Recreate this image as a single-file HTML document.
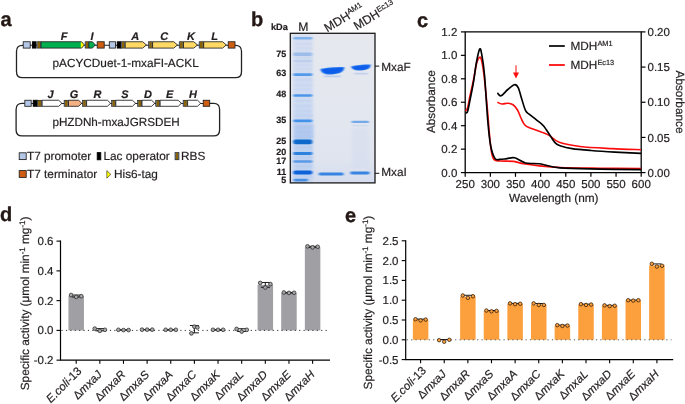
<!DOCTYPE html>
<html><head><meta charset="utf-8"><style>
html,body{margin:0;padding:0;background:#fff;width:685px;height:404px;overflow:hidden}
svg{display:block;filter:blur(0.35px)}
text{font-family:"Liberation Sans",sans-serif;text-rendering:geometricPrecision;stroke:#231f20;stroke-width:0.2px}
text.L{stroke:#231815;stroke-width:0.35px}
</style></head><body>
<svg width="685" height="404" viewBox="0 0 685 404">
<text x="0.5" y="26" font-size="20" font-weight="bold" fill="#231815" class="L">a</text>
<text x="251" y="25.8" font-size="20" font-weight="bold" fill="#231815" class="L">b</text>
<text x="417" y="26.6" font-size="20" font-weight="bold" fill="#231815" class="L">c</text>
<text x="-0.1" y="220.7" font-size="20" font-weight="bold" fill="#231815" class="L">d</text>
<text x="345" y="221.6" font-size="20" font-weight="bold" fill="#231815" class="L">e</text>
<path d="M23.2,45.3 L22.5,45.3 Q16.5,45.3 16.5,51.3 L16.5,71.7 Q16.5,77.7 22.5,77.7 L235.5,77.7 Q241.5,77.7 241.5,71.7 L241.5,51.3 Q241.5,45.3 235.5,45.3 L235,45.3" fill="none" stroke="#222" stroke-width="1.3"/>
<line x1="23" y1="45.3" x2="235" y2="45.3" stroke="#222" stroke-width="1.1"/>
<rect x="23.2" y="41.75" width="7.00" height="6.35" fill="#b4c7e7" stroke="#1e1e1e" stroke-width="0.85"/>
<rect x="32.4" y="41.75" width="3.50" height="6.35" fill="#000000" stroke="#000000" stroke-width="0.85"/>
<rect x="36.8" y="41.75" width="4.20" height="6.35" fill="#6a7a96"/>
<rect x="37.70" y="41.75" width="2.40" height="6.35" fill="#8a6404"/>
<rect x="36.8" y="41.75" width="4.20" height="6.35" fill="none" stroke="#1e1e1e" stroke-width="0.6"/>
<path d="M41,41.75 L80.9,41.75 L80.9,48.1 L41,48.1 Z" fill="#00b050"/>
<path d="M80.9,41.75 L81.6,41.75 L84.4,44.925 L81.6,48.1 L80.9,48.1 Z" fill="#ffff00"/>
<path d="M41,41.75 L81.6,41.75 L84.4,44.925 L81.6,48.1 L41,48.1 Z" fill="none" stroke="#1e1e1e" stroke-width="0.85"/>
<rect x="85.1" y="41.75" width="3.80" height="6.35" fill="#6a7a96"/>
<rect x="86.00" y="41.75" width="2.00" height="6.35" fill="#8a6404"/>
<rect x="85.1" y="41.75" width="3.80" height="6.35" fill="none" stroke="#1e1e1e" stroke-width="0.6"/>
<path d="M88.9,41.75 L92.40,41.75 L95.3,44.925 L92.40,48.1 L88.9,48.1 Z" fill="#00b050" stroke="#1e1e1e" stroke-width="0.85" stroke-linejoin="miter"/>
<rect x="97.2" y="41.75" width="7.00" height="6.35" fill="#cf5e12" stroke="#1e1e1e" stroke-width="0.85"/>
<rect x="109.3" y="41.75" width="6.20" height="6.35" fill="#b4c7e7" stroke="#1e1e1e" stroke-width="0.85"/>
<rect x="117.2" y="41.75" width="3.80" height="6.35" fill="#000000" stroke="#000000" stroke-width="0.85"/>
<rect x="121.0" y="41.75" width="4.20" height="6.35" fill="#6a7a96"/>
<rect x="121.90" y="41.75" width="2.40" height="6.35" fill="#8a6404"/>
<rect x="121.0" y="41.75" width="4.20" height="6.35" fill="none" stroke="#1e1e1e" stroke-width="0.6"/>
<path d="M125.2,41.75 L142.70,41.75 L146.4,44.925 L142.70,48.1 L125.2,48.1 Z" fill="#ffd966" stroke="#1e1e1e" stroke-width="0.85" stroke-linejoin="miter"/>
<rect x="148.5" y="41.75" width="4.10" height="6.35" fill="#6a7a96"/>
<rect x="149.40" y="41.75" width="2.30" height="6.35" fill="#8a6404"/>
<rect x="148.5" y="41.75" width="4.10" height="6.35" fill="none" stroke="#1e1e1e" stroke-width="0.6"/>
<path d="M152.6,41.75 L173.80,41.75 L177.5,44.925 L173.80,48.1 L152.6,48.1 Z" fill="#ffd966" stroke="#1e1e1e" stroke-width="0.85" stroke-linejoin="miter"/>
<rect x="179.2" y="41.75" width="4.30" height="6.35" fill="#6a7a96"/>
<rect x="180.10" y="41.75" width="2.50" height="6.35" fill="#8a6404"/>
<rect x="179.2" y="41.75" width="4.30" height="6.35" fill="none" stroke="#1e1e1e" stroke-width="0.6"/>
<path d="M183.5,41.75 L193.80,41.75 L197.5,44.925 L193.80,48.1 L183.5,48.1 Z" fill="#ffd966" stroke="#1e1e1e" stroke-width="0.85" stroke-linejoin="miter"/>
<rect x="199.1" y="41.75" width="4.60" height="6.35" fill="#6a7a96"/>
<rect x="200.00" y="41.75" width="2.80" height="6.35" fill="#8a6404"/>
<rect x="199.1" y="41.75" width="4.60" height="6.35" fill="none" stroke="#1e1e1e" stroke-width="0.6"/>
<path d="M203.7,41.75 L222.60,41.75 L226.3,44.925 L222.60,48.1 L203.7,48.1 Z" fill="#ffd966" stroke="#1e1e1e" stroke-width="0.85" stroke-linejoin="miter"/>
<rect x="228.2" y="41.75" width="6.80" height="6.35" fill="#cf5e12" stroke="#1e1e1e" stroke-width="0.85"/>
<text x="64" y="39.9" font-size="11" font-weight="bold" font-style="italic" text-anchor="middle" fill="#231f20">F</text>
<text x="92" y="39.9" font-size="11" font-weight="bold" font-style="italic" text-anchor="middle" fill="#231f20">I</text>
<text x="135.2" y="39.9" font-size="11" font-weight="bold" font-style="italic" text-anchor="middle" fill="#231f20">A</text>
<text x="164.3" y="39.9" font-size="11" font-weight="bold" font-style="italic" text-anchor="middle" fill="#231f20">C</text>
<text x="191" y="39.9" font-size="11" font-weight="bold" font-style="italic" text-anchor="middle" fill="#231f20">K</text>
<text x="214.6" y="39.9" font-size="11" font-weight="bold" font-style="italic" text-anchor="middle" fill="#231f20">L</text>
<text x="52.5" y="67.1" font-size="11.8" fill="#231f20">pACYCDuet-1-mxaFI-ACKL</text>
<path d="M24.8,103.45 L22.1,103.45 Q16.1,103.45 16.1,109.45 L16.1,129.9 Q16.1,135.9 22.1,135.9 L213.6,135.9 Q219.6,135.9 219.6,129.9 L219.6,109.45 Q219.6,103.45 213.6,103.45 L209.7,103.45" fill="none" stroke="#222" stroke-width="1.3"/>
<line x1="24.8" y1="103.45" x2="209.7" y2="103.45" stroke="#222" stroke-width="1.1"/>
<rect x="24.8" y="100.25" width="6.40" height="6.05" fill="#b4c7e7" stroke="#1e1e1e" stroke-width="0.85"/>
<rect x="33.2" y="100.25" width="4.00" height="6.05" fill="#000000" stroke="#000000" stroke-width="0.85"/>
<rect x="37.2" y="100.25" width="4.90" height="6.05" fill="#6a7a96"/>
<rect x="38.10" y="100.25" width="3.10" height="6.05" fill="#8a6404"/>
<rect x="37.2" y="100.25" width="4.90" height="6.05" fill="none" stroke="#1e1e1e" stroke-width="0.6"/>
<path d="M42.1,100.25 L58.70,100.25 L61.9,103.275 L58.70,106.3 L42.1,106.3 Z" fill="#ffffff" stroke="#1e1e1e" stroke-width="0.85" stroke-linejoin="miter"/>
<rect x="64.1" y="100.25" width="4.40" height="6.05" fill="#6a7a96"/>
<rect x="65.00" y="100.25" width="2.60" height="6.05" fill="#8a6404"/>
<rect x="64.1" y="100.25" width="4.40" height="6.05" fill="none" stroke="#1e1e1e" stroke-width="0.6"/>
<path d="M68.5,100.25 L78.60,100.25 L81.8,103.275 L78.60,106.3 L68.5,106.3 Z" fill="#f4b183" stroke="#1e1e1e" stroke-width="0.85" stroke-linejoin="miter"/>
<rect x="82.4" y="100.25" width="4.20" height="6.05" fill="#6a7a96"/>
<rect x="83.30" y="100.25" width="2.40" height="6.05" fill="#8a6404"/>
<rect x="82.4" y="100.25" width="4.20" height="6.05" fill="none" stroke="#1e1e1e" stroke-width="0.6"/>
<path d="M86.6,100.25 L107.40,100.25 L110.6,103.275 L107.40,106.3 L86.6,106.3 Z" fill="#ffffff" stroke="#1e1e1e" stroke-width="0.85" stroke-linejoin="miter"/>
<rect x="111.6" y="100.25" width="4.20" height="6.05" fill="#6a7a96"/>
<rect x="112.50" y="100.25" width="2.40" height="6.05" fill="#8a6404"/>
<rect x="111.6" y="100.25" width="4.20" height="6.05" fill="none" stroke="#1e1e1e" stroke-width="0.6"/>
<path d="M115.8,100.25 L132.40,100.25 L135.6,103.275 L132.40,106.3 L115.8,106.3 Z" fill="#ffffff" stroke="#1e1e1e" stroke-width="0.85" stroke-linejoin="miter"/>
<rect x="137.6" y="100.25" width="4.40" height="6.05" fill="#6a7a96"/>
<rect x="138.50" y="100.25" width="2.60" height="6.05" fill="#8a6404"/>
<rect x="137.6" y="100.25" width="4.40" height="6.05" fill="none" stroke="#1e1e1e" stroke-width="0.6"/>
<path d="M142.0,100.25 L151.60,100.25 L154.8,103.275 L151.60,106.3 L142.0,106.3 Z" fill="#ffffff" stroke="#1e1e1e" stroke-width="0.85" stroke-linejoin="miter"/>
<rect x="155.7" y="100.25" width="4.40" height="6.05" fill="#6a7a96"/>
<rect x="156.60" y="100.25" width="2.60" height="6.05" fill="#8a6404"/>
<rect x="155.7" y="100.25" width="4.40" height="6.05" fill="none" stroke="#1e1e1e" stroke-width="0.6"/>
<path d="M160.1,100.25 L178.20,100.25 L181.4,103.275 L178.20,106.3 L160.1,106.3 Z" fill="#ffffff" stroke="#1e1e1e" stroke-width="0.85" stroke-linejoin="miter"/>
<rect x="183.1" y="100.25" width="4.50" height="6.05" fill="#6a7a96"/>
<rect x="184.00" y="100.25" width="2.70" height="6.05" fill="#8a6404"/>
<rect x="183.1" y="100.25" width="4.50" height="6.05" fill="none" stroke="#1e1e1e" stroke-width="0.6"/>
<path d="M187.6,100.25 L197.50,100.25 L200.7,103.275 L197.50,106.3 L187.6,106.3 Z" fill="#ffffff" stroke="#1e1e1e" stroke-width="0.85" stroke-linejoin="miter"/>
<rect x="203.2" y="100.25" width="6.50" height="6.05" fill="#cf5e12" stroke="#1e1e1e" stroke-width="0.85"/>
<text x="50.5" y="97.8" font-size="11" font-weight="bold" font-style="italic" text-anchor="middle" fill="#231f20">J</text>
<text x="74" y="97.8" font-size="11" font-weight="bold" font-style="italic" text-anchor="middle" fill="#231f20">G</text>
<text x="97.4" y="97.8" font-size="11" font-weight="bold" font-style="italic" text-anchor="middle" fill="#231f20">R</text>
<text x="124.8" y="97.8" font-size="11" font-weight="bold" font-style="italic" text-anchor="middle" fill="#231f20">S</text>
<text x="148.1" y="97.8" font-size="11" font-weight="bold" font-style="italic" text-anchor="middle" fill="#231f20">D</text>
<text x="169.7" y="97.8" font-size="11" font-weight="bold" font-style="italic" text-anchor="middle" fill="#231f20">E</text>
<text x="193.1" y="97.8" font-size="11" font-weight="bold" font-style="italic" text-anchor="middle" fill="#231f20">H</text>
<text x="52.4" y="125.6" font-size="11.7" fill="#231f20">pHZDNh-mxaJGRSDEH</text>
<rect x="19.2" y="152.8" width="7.00" height="6.80" fill="#b4c7e7" stroke="#1e1e1e" stroke-width="0.85"/>
<text x="27" y="159.8" font-size="11.8" fill="#231f20">T7 promoter</text>
<rect x="97.2" y="152.6" width="3.60" height="7.20" fill="#000000" stroke="#000000" stroke-width="0.85"/>
<text x="103.5" y="159.8" font-size="11.8" fill="#231f20">Lac operator</text>
<rect x="175.0" y="152.6" width="4.00" height="7.20" fill="#6a7a96"/>
<rect x="175.90" y="152.6" width="2.20" height="7.20" fill="#8a6404"/>
<rect x="175.0" y="152.6" width="4.00" height="7.20" fill="none" stroke="#1e1e1e" stroke-width="0.6"/>
<text x="181" y="159.8" font-size="11.8" fill="#231f20">RBS</text>
<rect x="19.2" y="170.6" width="7.00" height="6.80" fill="#cf5e12" stroke="#1e1e1e" stroke-width="0.85"/>
<text x="27" y="177.8" font-size="11.8" fill="#231f20">T7 terminator</text>
<path d="M106.8,170.6 L110.8,174.4 L106.8,178.2 Z" fill="#ffff00" stroke="#1e1e1e" stroke-width="0.6"/>
<text x="114" y="177.8" font-size="11.8" fill="#231f20">His6-tag</text>
<defs><linearGradient id="gelbg" x1="0" y1="0" x2="0" y2="1"><stop offset="0" stop-color="#e6e8ee"/><stop offset="0.5" stop-color="#e3e7ef"/><stop offset="0.85" stop-color="#dfe4ef"/><stop offset="1" stop-color="#d5dcee"/></linearGradient><linearGradient id="mlane" x1="0" y1="0" x2="0" y2="1"><stop offset="0" stop-color="#d6dff1"/><stop offset="0.45" stop-color="#cddaf2"/><stop offset="0.75" stop-color="#bcd0f0"/><stop offset="1" stop-color="#c2d3f1"/></linearGradient><filter id="bb" x="-30%" y="-200%" width="160%" height="500%"><feGaussianBlur stdDeviation="1.1 0.75"/></filter><filter id="bb2" x="-30%" y="-200%" width="160%" height="500%"><feGaussianBlur stdDeviation="0.9 0.6"/></filter><filter id="blur2" x="-30%" y="-10%" width="160%" height="120%"><feGaussianBlur stdDeviation="1.5"/></filter></defs>
<rect x="290.3" y="33.3" width="84.69999999999999" height="149.60000000000002" fill="url(#gelbg)"/>
<rect x="293.3" y="34" width="19.5" height="148" fill="url(#mlane)" filter="url(#blur2)"/>
<rect x="294.5" y="124" width="19" height="16" fill="#a9c3ee" opacity="0.6" filter="url(#blur2)"/>
<rect x="294.30" y="42.75" width="18.50" height="2.50" rx="1.25" fill="#a3bfe8" opacity="0.1" filter="url(#bb)"/>
<rect x="294.30" y="46.90" width="18.50" height="2.20" rx="1.10" fill="#a3bfe8" opacity="0.08000000000000002" filter="url(#bb)"/>
<rect x="294.30" y="56.25" width="18.50" height="2.50" rx="1.25" fill="#a3bfe8" opacity="0.12" filter="url(#bb)"/>
<rect x="294.30" y="63.75" width="18.50" height="2.50" rx="1.25" fill="#a3bfe8" opacity="0.1" filter="url(#bb)"/>
<rect x="294.30" y="68.00" width="18.50" height="2.00" rx="1.00" fill="#a3bfe8" opacity="0.08000000000000002" filter="url(#bb)"/>
<rect x="294.30" y="78.50" width="18.50" height="3.00" rx="1.50" fill="#a3bfe8" opacity="0.13999999999999999" filter="url(#bb)"/>
<rect x="294.30" y="83.75" width="18.50" height="2.50" rx="1.25" fill="#a3bfe8" opacity="0.12" filter="url(#bb)"/>
<rect x="294.30" y="88.50" width="18.50" height="2.00" rx="1.00" fill="#a3bfe8" opacity="0.1" filter="url(#bb)"/>
<rect x="294.30" y="99.75" width="18.50" height="2.50" rx="1.25" fill="#a3bfe8" opacity="0.12" filter="url(#bb)"/>
<rect x="294.30" y="104.75" width="18.50" height="2.50" rx="1.25" fill="#a3bfe8" opacity="0.12" filter="url(#bb)"/>
<rect x="294.30" y="109.75" width="18.50" height="2.50" rx="1.25" fill="#a3bfe8" opacity="0.12" filter="url(#bb)"/>
<rect x="294.30" y="114.25" width="18.50" height="2.50" rx="1.25" fill="#a3bfe8" opacity="0.12" filter="url(#bb)"/>
<rect x="294.30" y="125.50" width="18.50" height="3.00" rx="1.50" fill="#a3bfe8" opacity="0.13999999999999999" filter="url(#bb)"/>
<rect x="294.30" y="130.50" width="18.50" height="3.00" rx="1.50" fill="#a3bfe8" opacity="0.13999999999999999" filter="url(#bb)"/>
<rect x="294.30" y="135.25" width="18.50" height="2.50" rx="1.25" fill="#a3bfe8" opacity="0.13999999999999999" filter="url(#bb)"/>
<rect x="294.30" y="146.25" width="18.50" height="2.50" rx="1.25" fill="#a3bfe8" opacity="0.13999999999999999" filter="url(#bb)"/>
<rect x="294.30" y="156.40" width="18.50" height="2.20" rx="1.10" fill="#a3bfe8" opacity="0.13999999999999999" filter="url(#bb)"/>
<rect x="294.30" y="165.25" width="18.50" height="2.50" rx="1.25" fill="#a3bfe8" opacity="0.16000000000000003" filter="url(#bb)"/>
<rect x="294.30" y="175.50" width="18.50" height="2.00" rx="1.00" fill="#a3bfe8" opacity="0.13999999999999999" filter="url(#bb)"/>
<rect x="293.20" y="36.90" width="19.20" height="2.60" rx="1.30" fill="#6aa6ec" opacity="0.8" filter="url(#bb)"/>
<rect x="293.20" y="52.50" width="19.20" height="3.40" rx="1.70" fill="#8cb2e8" opacity="0.75" filter="url(#bb)"/>
<rect x="293.20" y="59.80" width="19.20" height="2.40" rx="1.20" fill="#a9c2ea" opacity="0.5" filter="url(#bb)"/>
<rect x="293.20" y="73.30" width="19.20" height="2.60" rx="1.30" fill="#3d8fe9" opacity="0.85" filter="url(#bb)"/>
<rect x="293.20" y="94.20" width="19.20" height="2.60" rx="1.30" fill="#3d8fe9" opacity="0.9" filter="url(#bb)"/>
<rect x="293.20" y="119.40" width="19.20" height="2.80" rx="1.40" fill="#3d8fe9" opacity="0.95" filter="url(#bb)"/>
<rect x="293.20" y="139.50" width="19.20" height="4.80" rx="2.40" fill="#0a68cc" opacity="1.0" filter="url(#bb)"/>
<rect x="293.20" y="152.10" width="19.20" height="2.80" rx="1.40" fill="#2f82df" opacity="1.0" filter="url(#bb)"/>
<rect x="293.20" y="160.20" width="19.20" height="2.60" rx="1.30" fill="#4a90e4" opacity="0.85" filter="url(#bb)"/>
<rect x="293.20" y="170.60" width="19.20" height="4.00" rx="2.00" fill="#0c62da" opacity="1.0" filter="url(#bb)"/>
<rect x="293.50" y="178.70" width="14.50" height="2.80" rx="1.40" fill="#3b88e0" opacity="0.9" filter="url(#bb)"/>
<path d="M320.6,68.9 C326,67.6 338,66.7 344.2,67.0 C343.8,71.5 341.2,73.6 332,74.4 C324,74.9 321.2,72.6 320.6,68.9 Z" fill="#2474f2" filter="url(#bb2)"/>
<path d="M321.8,69.6 C326,68.6 338,67.9 343,68.1 C342.5,71.5 340.5,73.0 332,73.7 C325,74.1 322.3,72.3 321.8,69.6 Z" fill="#0a5de8" filter="url(#bb2)"/>
<path d="M351.4,66.3 C357,65.0 365,64.3 370.6,64.5 C370.2,68.0 368.2,69.8 361,70.5 C354.5,70.9 351.9,69.0 351.4,66.3 Z" fill="#2474f2" filter="url(#bb2)"/>
<path d="M352.4,66.9 C357,65.9 365,65.3 369.6,65.4 C369.2,68.0 367.5,69.2 361,69.8 C355,70.2 352.8,68.8 352.4,66.9 Z" fill="#0a5de8" filter="url(#bb2)"/>
<rect x="323.50" y="75.50" width="17.50" height="1.80" rx="0.90" fill="#8fb0e8" opacity="0.45" filter="url(#bb)"/>
<rect x="354.00" y="72.70" width="14.00" height="1.80" rx="0.90" fill="#8fb0e8" opacity="0.4" filter="url(#bb)"/>
<rect x="318.60" y="172.40" width="25.10" height="3.00" rx="1.50" fill="#2f80e2" opacity="0.95" filter="url(#bb)"/>
<rect x="350.20" y="171.60" width="19.40" height="2.80" rx="1.40" fill="#2f80e2" opacity="0.95" filter="url(#bb)"/>
<rect x="351.50" y="120.70" width="17.50" height="2.40" rx="1.20" fill="#4f95e8" opacity="0.75" filter="url(#bb)"/>
<rect x="352.00" y="124.80" width="16.70" height="1.60" rx="0.80" fill="#a8c0ea" opacity="0.25" filter="url(#bb)"/>
<rect x="352" y="128" width="17" height="40" fill="#c8d4ec" opacity="0.25" filter="url(#blur2)"/>
<rect x="290.3" y="33.3" width="84.69999999999999" height="149.60000000000002" fill="none" stroke="#1a1a1a" stroke-width="1.3"/>
<text x="286.2" y="56.5" font-size="9" font-weight="bold" text-anchor="end" fill="#231f20">75</text>
<text x="286.2" y="76.4" font-size="9" font-weight="bold" text-anchor="end" fill="#231f20">63</text>
<text x="286.2" y="97.1" font-size="9" font-weight="bold" text-anchor="end" fill="#231f20">48</text>
<text x="286.2" y="123.1" font-size="9" font-weight="bold" text-anchor="end" fill="#231f20">35</text>
<text x="286.2" y="144.3" font-size="9" font-weight="bold" text-anchor="end" fill="#231f20">25</text>
<text x="286.2" y="155.0" font-size="9" font-weight="bold" text-anchor="end" fill="#231f20">20</text>
<text x="286.2" y="163.9" font-size="9" font-weight="bold" text-anchor="end" fill="#231f20">17</text>
<text x="286.2" y="175.1" font-size="9" font-weight="bold" text-anchor="end" fill="#231f20">11</text>
<text x="286.2" y="182.9" font-size="9" font-weight="bold" text-anchor="end" fill="#231f20">5</text>
<text x="271.0" y="29.6" font-size="9.2" font-weight="bold" fill="#231f20">kDa</text>
<text x="298.3" y="31.3" font-size="12.2" fill="#231f20">M</text>
<text transform="translate(327.2,32.6) rotate(-31)" font-size="12.2" fill="#231f20">MDH<tspan font-size="7.8" dy="-4.3">AM1</tspan></text>
<text transform="translate(356.8,30.6) rotate(-31)" font-size="12.2" fill="#231f20">MDH<tspan font-size="7.8" dy="-4.3">Ec13</tspan></text>
<line x1="375" y1="66.1" x2="379.3" y2="66.1" stroke="#111" stroke-width="1"/>
<line x1="375" y1="173.3" x2="379.3" y2="173.3" stroke="#111" stroke-width="1"/>
<text x="381.3" y="70.6" font-size="11.8" fill="#231f20">MxaF</text>
<text x="381.3" y="176.3" font-size="11.8" fill="#231f20">MxaI</text>
<path d="M465.2,172.6 L465.2,31.9 L641.2,31.9 L641.2,172.6 Z" fill="none" stroke="#000" stroke-width="1.3"/>
<line x1="460.9" y1="172.60" x2="465.2" y2="172.60" stroke="#000" stroke-width="1.2"/>
<text x="457.3" y="176.70" font-size="11.5" text-anchor="end" fill="#231f20">0.0</text>
<line x1="460.9" y1="149.15" x2="465.2" y2="149.15" stroke="#000" stroke-width="1.2"/>
<text x="457.3" y="153.25" font-size="11.5" text-anchor="end" fill="#231f20">0.2</text>
<line x1="460.9" y1="125.70" x2="465.2" y2="125.70" stroke="#000" stroke-width="1.2"/>
<text x="457.3" y="129.80" font-size="11.5" text-anchor="end" fill="#231f20">0.4</text>
<line x1="460.9" y1="102.25" x2="465.2" y2="102.25" stroke="#000" stroke-width="1.2"/>
<text x="457.3" y="106.35" font-size="11.5" text-anchor="end" fill="#231f20">0.6</text>
<line x1="460.9" y1="78.80" x2="465.2" y2="78.80" stroke="#000" stroke-width="1.2"/>
<text x="457.3" y="82.90" font-size="11.5" text-anchor="end" fill="#231f20">0.8</text>
<line x1="460.9" y1="55.35" x2="465.2" y2="55.35" stroke="#000" stroke-width="1.2"/>
<text x="457.3" y="59.45" font-size="11.5" text-anchor="end" fill="#231f20">1.0</text>
<line x1="460.9" y1="31.90" x2="465.2" y2="31.90" stroke="#000" stroke-width="1.2"/>
<text x="457.3" y="36.00" font-size="11.5" text-anchor="end" fill="#231f20">1.2</text>
<line x1="641.2" y1="172.60" x2="645.5" y2="172.60" stroke="#000" stroke-width="1.2"/>
<text x="647.5" y="176.70" font-size="11.5" fill="#231f20">0.00</text>
<line x1="641.2" y1="137.43" x2="645.5" y2="137.43" stroke="#000" stroke-width="1.2"/>
<text x="647.5" y="141.53" font-size="11.5" fill="#231f20">0.05</text>
<line x1="641.2" y1="102.25" x2="645.5" y2="102.25" stroke="#000" stroke-width="1.2"/>
<text x="647.5" y="106.35" font-size="11.5" fill="#231f20">0.10</text>
<line x1="641.2" y1="67.08" x2="645.5" y2="67.08" stroke="#000" stroke-width="1.2"/>
<text x="647.5" y="71.17" font-size="11.5" fill="#231f20">0.15</text>
<line x1="641.2" y1="31.90" x2="645.5" y2="31.90" stroke="#000" stroke-width="1.2"/>
<text x="647.5" y="36.00" font-size="11.5" fill="#231f20">0.20</text>
<line x1="465.20" y1="172.6" x2="465.20" y2="176.79999999999998" stroke="#000" stroke-width="1.2"/>
<text x="465.20" y="187.6" font-size="11.5" text-anchor="middle" fill="#231f20">250</text>
<line x1="490.34" y1="172.6" x2="490.34" y2="176.79999999999998" stroke="#000" stroke-width="1.2"/>
<text x="490.34" y="187.6" font-size="11.5" text-anchor="middle" fill="#231f20">300</text>
<line x1="515.49" y1="172.6" x2="515.49" y2="176.79999999999998" stroke="#000" stroke-width="1.2"/>
<text x="515.49" y="187.6" font-size="11.5" text-anchor="middle" fill="#231f20">350</text>
<line x1="540.63" y1="172.6" x2="540.63" y2="176.79999999999998" stroke="#000" stroke-width="1.2"/>
<text x="540.63" y="187.6" font-size="11.5" text-anchor="middle" fill="#231f20">400</text>
<line x1="565.77" y1="172.6" x2="565.77" y2="176.79999999999998" stroke="#000" stroke-width="1.2"/>
<text x="565.77" y="187.6" font-size="11.5" text-anchor="middle" fill="#231f20">450</text>
<line x1="590.91" y1="172.6" x2="590.91" y2="176.79999999999998" stroke="#000" stroke-width="1.2"/>
<text x="590.91" y="187.6" font-size="11.5" text-anchor="middle" fill="#231f20">500</text>
<line x1="616.06" y1="172.6" x2="616.06" y2="176.79999999999998" stroke="#000" stroke-width="1.2"/>
<text x="616.06" y="187.6" font-size="11.5" text-anchor="middle" fill="#231f20">550</text>
<line x1="641.20" y1="172.6" x2="641.20" y2="176.79999999999998" stroke="#000" stroke-width="1.2"/>
<text x="641.20" y="187.6" font-size="11.5" text-anchor="middle" fill="#231f20">600</text>
<text x="553.8" y="202" font-size="11.8" text-anchor="middle" fill="#231f20">Wavelength (nm)</text>
<text transform="translate(435.4,101.6) rotate(-90)" font-size="11.8" text-anchor="middle" fill="#231f20">Absorbance</text>
<text transform="translate(675.8,102) rotate(90)" font-size="11.8" text-anchor="middle" fill="#231f20">Absorbance</text>
<line x1="549" y1="46.0" x2="564.8" y2="46.0" stroke="#000" stroke-width="1.7"/>
<line x1="549" y1="65.0" x2="564.8" y2="65.0" stroke="#fc0d0d" stroke-width="1.8"/>
<text x="570.5" y="49.8" font-size="11.8" fill="#231f20">MDH<tspan font-size="7.4" dy="-3.9">AM1</tspan></text>
<text x="570.5" y="68.8" font-size="11.8" fill="#231f20">MDH<tspan font-size="7.4" dy="-3.9">Ec13</tspan></text>
<line x1="516" y1="65.3" x2="516" y2="73.5" stroke="#fc0d0d" stroke-width="1"/>
<path d="M513,72.6 L519,72.6 L516,78.6 Z" fill="#fc0d0d"/>
<path d="M465.40,110.90 C465.75,110.42 466.73,110.48 467.50,108.00 C468.27,105.52 469.00,100.67 470.00,96.00 C471.00,91.33 472.42,85.33 473.50,80.00 C474.58,74.67 475.52,67.77 476.50,64.00 C477.48,60.23 478.57,58.07 479.40,57.40 C480.23,56.73 480.73,57.07 481.50,60.00 C482.27,62.93 483.08,67.50 484.00,75.00 C484.92,82.50 486.08,95.00 487.00,105.00 C487.92,115.00 488.75,127.17 489.50,135.00 C490.25,142.83 490.77,147.93 491.50,152.00 C492.23,156.07 492.52,157.90 493.90,159.40 C495.28,160.90 496.50,160.67 499.80,161.00 C503.10,161.33 509.73,160.93 513.70,161.40 C517.67,161.87 519.32,163.05 523.60,163.80 C527.88,164.55 533.33,165.28 539.40,165.90 C545.47,166.52 549.90,167.12 560.00,167.50 C570.10,167.88 586.50,168.02 600.00,168.20 C613.50,168.38 634.17,168.53 641.00,168.60" fill="none" stroke="#fc0d0d" stroke-width="1.65" stroke-linejoin="round"/>
<path d="M497.40,102.20 C498.15,102.50 500.17,103.82 501.90,104.00 C503.63,104.18 505.95,103.17 507.80,103.30 C509.65,103.43 511.38,103.68 513.00,104.80 C514.62,105.92 516.17,107.80 517.50,110.00 C518.83,112.20 519.82,115.53 521.00,118.00 C522.18,120.47 523.18,123.18 524.60,124.80 C526.02,126.42 526.37,126.38 529.50,127.70 C532.63,129.02 540.05,131.38 543.40,132.70 C546.75,134.02 546.95,134.00 549.60,135.60 C552.25,137.20 554.23,140.48 559.30,142.30 C564.37,144.12 571.22,145.45 580.00,146.50 C588.78,147.55 601.83,148.07 612.00,148.60 C622.17,149.13 636.17,149.52 641.00,149.70" fill="none" stroke="#fc0d0d" stroke-width="1.65" stroke-linejoin="round"/>
<path d="M465.40,112.30 C465.75,112.22 466.73,113.85 467.50,111.80 C468.27,109.75 469.00,104.97 470.00,100.00 C471.00,95.03 472.42,88.33 473.50,82.00 C474.58,75.67 475.45,67.52 476.50,62.00 C477.55,56.48 478.88,49.90 479.80,48.90 C480.72,47.90 481.22,51.65 482.00,56.00 C482.78,60.35 483.55,64.33 484.50,75.00 C485.45,85.67 486.70,108.33 487.70,120.00 C488.70,131.67 489.30,138.60 490.50,145.00 C491.70,151.40 493.35,156.00 494.90,158.40 C496.45,160.80 497.78,159.37 499.80,159.40 C501.82,159.43 504.52,158.87 507.00,158.60 C509.48,158.33 511.62,157.07 514.70,157.80 C517.78,158.53 521.38,162.00 525.50,163.00 C529.62,164.00 533.65,162.98 539.40,163.80 C545.15,164.62 549.90,167.02 560.00,167.90 C570.10,168.78 586.50,168.82 600.00,169.10 C613.50,169.38 634.17,169.52 641.00,169.60" fill="none" stroke="#000" stroke-width="1.65" stroke-linejoin="round"/>
<path d="M497.40,92.90 C498.02,93.38 499.37,96.37 501.10,95.80 C502.83,95.23 505.57,91.35 507.80,89.50 C510.03,87.65 512.77,85.00 514.50,84.70 C516.23,84.40 516.97,85.22 518.20,87.70 C519.43,90.18 520.67,95.77 521.90,99.60 C523.13,103.43 524.35,108.23 525.60,110.70 C526.85,113.17 527.60,112.88 529.40,114.40 C531.20,115.92 534.07,117.92 536.40,119.80 C538.73,121.68 541.07,123.00 543.40,125.70 C545.73,128.40 548.38,133.08 550.40,136.00 C552.42,138.92 553.90,141.58 555.50,143.20 C557.10,144.82 557.25,144.80 560.00,145.70 C562.75,146.60 566.83,147.80 572.00,148.60 C577.17,149.40 583.83,149.92 591.00,150.50 C598.17,151.08 606.67,151.62 615.00,152.10 C623.33,152.58 636.67,153.18 641.00,153.40" fill="none" stroke="#000" stroke-width="1.65" stroke-linejoin="round"/>
<path d="M60.5,240.52 L60.5,360.2 L330,360.2" fill="none" stroke="#000" stroke-width="1.2"/>
<line x1="56.5" y1="241.12" x2="60.5" y2="241.12" stroke="#000" stroke-width="1.1"/>
<text x="53.5" y="245.02" font-size="11.5" text-anchor="end" fill="#231f20">0.6</text>
<line x1="56.5" y1="270.88" x2="60.5" y2="270.88" stroke="#000" stroke-width="1.1"/>
<text x="53.5" y="274.78" font-size="11.5" text-anchor="end" fill="#231f20">0.4</text>
<line x1="56.5" y1="300.64" x2="60.5" y2="300.64" stroke="#000" stroke-width="1.1"/>
<text x="53.5" y="304.54" font-size="11.5" text-anchor="end" fill="#231f20">0.2</text>
<line x1="56.5" y1="330.40" x2="60.5" y2="330.40" stroke="#000" stroke-width="1.1"/>
<text x="53.5" y="334.30" font-size="11.5" text-anchor="end" fill="#231f20">0.0</text>
<line x1="56.5" y1="360.16" x2="60.5" y2="360.16" stroke="#000" stroke-width="1.1"/>
<text x="53.5" y="364.06" font-size="11.5" text-anchor="end" fill="#231f20">-0.2</text>
<rect x="68.45" y="295.88" width="15.5" height="34.52" fill="#a09fa4"/>
<rect x="257.57" y="284.87" width="15.5" height="45.53" fill="#a09fa4"/>
<rect x="281.21" y="292.90" width="15.5" height="37.50" fill="#a09fa4"/>
<rect x="304.85" y="247.22" width="15.5" height="83.18" fill="#a09fa4"/>
<line x1="61.5" y1="330.4" x2="328.5" y2="330.4" stroke="#333" stroke-width="1" stroke-dasharray="1.2,3.2"/>
<line x1="76.20" y1="360.2" x2="76.20" y2="363.8" stroke="#000" stroke-width="1.1"/>
<text transform="translate(82.40,371.8) rotate(-45)" font-size="11.5" text-anchor="end" fill="#231f20"><tspan font-style="italic">E.coli</tspan>-13</text>
<line x1="99.84" y1="360.2" x2="99.84" y2="363.8" stroke="#000" stroke-width="1.1"/>
<text transform="translate(102.54,375.2) rotate(-45)" font-size="11.5" text-anchor="end" fill="#231f20">Δ<tspan font-style="italic">mxaJ</tspan></text>
<line x1="123.48" y1="360.2" x2="123.48" y2="363.8" stroke="#000" stroke-width="1.1"/>
<text transform="translate(126.18,375.2) rotate(-45)" font-size="11.5" text-anchor="end" fill="#231f20">Δ<tspan font-style="italic">mxaR</tspan></text>
<line x1="147.12" y1="360.2" x2="147.12" y2="363.8" stroke="#000" stroke-width="1.1"/>
<text transform="translate(149.82,375.2) rotate(-45)" font-size="11.5" text-anchor="end" fill="#231f20">Δ<tspan font-style="italic">mxaS</tspan></text>
<line x1="170.76" y1="360.2" x2="170.76" y2="363.8" stroke="#000" stroke-width="1.1"/>
<text transform="translate(173.46,375.2) rotate(-45)" font-size="11.5" text-anchor="end" fill="#231f20">Δ<tspan font-style="italic">mxaA</tspan></text>
<line x1="194.40" y1="360.2" x2="194.40" y2="363.8" stroke="#000" stroke-width="1.1"/>
<text transform="translate(197.10,375.2) rotate(-45)" font-size="11.5" text-anchor="end" fill="#231f20">Δ<tspan font-style="italic">mxaC</tspan></text>
<line x1="218.04" y1="360.2" x2="218.04" y2="363.8" stroke="#000" stroke-width="1.1"/>
<text transform="translate(220.74,375.2) rotate(-45)" font-size="11.5" text-anchor="end" fill="#231f20">Δ<tspan font-style="italic">mxaK</tspan></text>
<line x1="241.68" y1="360.2" x2="241.68" y2="363.8" stroke="#000" stroke-width="1.1"/>
<text transform="translate(244.38,375.2) rotate(-45)" font-size="11.5" text-anchor="end" fill="#231f20">Δ<tspan font-style="italic">mxaL</tspan></text>
<line x1="265.32" y1="360.2" x2="265.32" y2="363.8" stroke="#000" stroke-width="1.1"/>
<text transform="translate(268.02,375.2) rotate(-45)" font-size="11.5" text-anchor="end" fill="#231f20">Δ<tspan font-style="italic">mxaD</tspan></text>
<line x1="288.96" y1="360.2" x2="288.96" y2="363.8" stroke="#000" stroke-width="1.1"/>
<text transform="translate(291.66,375.2) rotate(-45)" font-size="11.5" text-anchor="end" fill="#231f20">Δ<tspan font-style="italic">mxaE</tspan></text>
<line x1="312.60" y1="360.2" x2="312.60" y2="363.8" stroke="#000" stroke-width="1.1"/>
<text transform="translate(315.30,375.2) rotate(-45)" font-size="11.5" text-anchor="end" fill="#231f20">Δ<tspan font-style="italic">mxaH</tspan></text>
<text transform="translate(28.7,303.4) rotate(-90)" font-size="11.8" text-anchor="middle" fill="#231f20">Specific activity (μmol min<tspan font-size="8" dy="-4">-1</tspan><tspan dy="4"> mg</tspan><tspan font-size="8" dy="-4">-1</tspan><tspan dy="4">)</tspan></text>
<line x1="76.20" y1="295.05" x2="76.20" y2="297.00" stroke="#000" stroke-width="0.9"/>
<line x1="71.70" y1="295.05" x2="80.70" y2="295.05" stroke="#000" stroke-width="0.9"/>
<line x1="71.70" y1="297.00" x2="80.70" y2="297.00" stroke="#000" stroke-width="0.9"/>
<circle cx="71.10" cy="294.99" r="1.85" fill="#a8a8ab" stroke="#2a2a2a" stroke-width="0.75"/>
<circle cx="76.20" cy="296.92" r="1.85" fill="#a8a8ab" stroke="#2a2a2a" stroke-width="0.75"/>
<circle cx="81.30" cy="296.18" r="1.85" fill="#a8a8ab" stroke="#2a2a2a" stroke-width="0.75"/>
<line x1="99.84" y1="328.64" x2="99.84" y2="330.87" stroke="#000" stroke-width="0.9"/>
<line x1="95.34" y1="328.64" x2="104.34" y2="328.64" stroke="#000" stroke-width="0.9"/>
<line x1="95.34" y1="330.87" x2="104.34" y2="330.87" stroke="#000" stroke-width="0.9"/>
<circle cx="94.74" cy="328.61" r="1.85" fill="#a8a8ab" stroke="#2a2a2a" stroke-width="0.75"/>
<circle cx="99.84" cy="330.85" r="1.85" fill="#a8a8ab" stroke="#2a2a2a" stroke-width="0.75"/>
<circle cx="104.94" cy="329.80" r="1.85" fill="#a8a8ab" stroke="#2a2a2a" stroke-width="0.75"/>
<line x1="123.48" y1="329.83" x2="123.48" y2="330.18" stroke="#000" stroke-width="0.9"/>
<line x1="118.98" y1="329.83" x2="127.98" y2="329.83" stroke="#000" stroke-width="0.9"/>
<line x1="118.98" y1="330.18" x2="127.98" y2="330.18" stroke="#000" stroke-width="0.9"/>
<circle cx="118.38" cy="329.80" r="1.85" fill="#a8a8ab" stroke="#2a2a2a" stroke-width="0.75"/>
<circle cx="123.48" cy="330.10" r="1.85" fill="#a8a8ab" stroke="#2a2a2a" stroke-width="0.75"/>
<circle cx="128.58" cy="330.10" r="1.85" fill="#a8a8ab" stroke="#2a2a2a" stroke-width="0.75"/>
<line x1="147.12" y1="329.66" x2="147.12" y2="329.66" stroke="#000" stroke-width="0.9"/>
<line x1="142.62" y1="329.66" x2="151.62" y2="329.66" stroke="#000" stroke-width="0.9"/>
<line x1="142.62" y1="329.66" x2="151.62" y2="329.66" stroke="#000" stroke-width="0.9"/>
<circle cx="142.02" cy="329.66" r="1.85" fill="#a8a8ab" stroke="#2a2a2a" stroke-width="0.75"/>
<circle cx="147.12" cy="329.66" r="1.85" fill="#a8a8ab" stroke="#2a2a2a" stroke-width="0.75"/>
<circle cx="152.22" cy="329.66" r="1.85" fill="#a8a8ab" stroke="#2a2a2a" stroke-width="0.75"/>
<line x1="170.76" y1="329.80" x2="170.76" y2="329.80" stroke="#000" stroke-width="0.9"/>
<line x1="166.26" y1="329.80" x2="175.26" y2="329.80" stroke="#000" stroke-width="0.9"/>
<line x1="166.26" y1="329.80" x2="175.26" y2="329.80" stroke="#000" stroke-width="0.9"/>
<circle cx="165.66" cy="329.80" r="1.85" fill="#a8a8ab" stroke="#2a2a2a" stroke-width="0.75"/>
<circle cx="170.76" cy="329.80" r="1.85" fill="#a8a8ab" stroke="#2a2a2a" stroke-width="0.75"/>
<circle cx="175.86" cy="329.80" r="1.85" fill="#a8a8ab" stroke="#2a2a2a" stroke-width="0.75"/>
<line x1="194.40" y1="325.49" x2="194.40" y2="332.83" stroke="#000" stroke-width="0.9"/>
<line x1="189.90" y1="325.49" x2="198.90" y2="325.49" stroke="#000" stroke-width="0.9"/>
<line x1="189.90" y1="332.83" x2="198.90" y2="332.83" stroke="#000" stroke-width="0.9"/>
<circle cx="194.40" cy="326.68" r="1.85" fill="#a8a8ab" stroke="#2a2a2a" stroke-width="0.75"/>
<circle cx="197.40" cy="327.42" r="1.85" fill="#a8a8ab" stroke="#2a2a2a" stroke-width="0.75"/>
<circle cx="191.40" cy="333.38" r="1.85" fill="#a8a8ab" stroke="#2a2a2a" stroke-width="0.75"/>
<line x1="218.04" y1="329.80" x2="218.04" y2="329.80" stroke="#000" stroke-width="0.9"/>
<line x1="213.54" y1="329.80" x2="222.54" y2="329.80" stroke="#000" stroke-width="0.9"/>
<line x1="213.54" y1="329.80" x2="222.54" y2="329.80" stroke="#000" stroke-width="0.9"/>
<circle cx="212.94" cy="329.80" r="1.85" fill="#a8a8ab" stroke="#2a2a2a" stroke-width="0.75"/>
<circle cx="218.04" cy="329.80" r="1.85" fill="#a8a8ab" stroke="#2a2a2a" stroke-width="0.75"/>
<circle cx="223.14" cy="329.80" r="1.85" fill="#a8a8ab" stroke="#2a2a2a" stroke-width="0.75"/>
<line x1="241.68" y1="328.74" x2="241.68" y2="331.47" stroke="#000" stroke-width="0.9"/>
<line x1="237.18" y1="328.74" x2="246.18" y2="328.74" stroke="#000" stroke-width="0.9"/>
<line x1="237.18" y1="331.47" x2="246.18" y2="331.47" stroke="#000" stroke-width="0.9"/>
<circle cx="236.58" cy="328.91" r="1.85" fill="#a8a8ab" stroke="#2a2a2a" stroke-width="0.75"/>
<circle cx="241.68" cy="331.59" r="1.85" fill="#a8a8ab" stroke="#2a2a2a" stroke-width="0.75"/>
<circle cx="246.78" cy="329.80" r="1.85" fill="#a8a8ab" stroke="#2a2a2a" stroke-width="0.75"/>
<line x1="265.32" y1="282.47" x2="265.32" y2="287.26" stroke="#000" stroke-width="0.9"/>
<line x1="260.82" y1="282.47" x2="269.82" y2="282.47" stroke="#000" stroke-width="0.9"/>
<line x1="260.82" y1="287.26" x2="269.82" y2="287.26" stroke="#000" stroke-width="0.9"/>
<circle cx="260.22" cy="282.93" r="1.85" fill="#a8a8ab" stroke="#2a2a2a" stroke-width="0.75"/>
<circle cx="265.32" cy="287.55" r="1.85" fill="#a8a8ab" stroke="#2a2a2a" stroke-width="0.75"/>
<circle cx="270.42" cy="284.12" r="1.85" fill="#a8a8ab" stroke="#2a2a2a" stroke-width="0.75"/>
<line x1="288.96" y1="292.48" x2="288.96" y2="292.93" stroke="#000" stroke-width="0.9"/>
<line x1="284.46" y1="292.48" x2="293.46" y2="292.48" stroke="#000" stroke-width="0.9"/>
<line x1="284.46" y1="292.93" x2="293.46" y2="292.93" stroke="#000" stroke-width="0.9"/>
<circle cx="283.86" cy="292.46" r="1.85" fill="#a8a8ab" stroke="#2a2a2a" stroke-width="0.75"/>
<circle cx="288.96" cy="292.90" r="1.85" fill="#a8a8ab" stroke="#2a2a2a" stroke-width="0.75"/>
<circle cx="294.06" cy="292.75" r="1.85" fill="#a8a8ab" stroke="#2a2a2a" stroke-width="0.75"/>
<line x1="312.60" y1="246.30" x2="312.60" y2="247.35" stroke="#000" stroke-width="0.9"/>
<line x1="308.10" y1="246.30" x2="317.10" y2="246.30" stroke="#000" stroke-width="0.9"/>
<line x1="308.10" y1="247.35" x2="317.10" y2="247.35" stroke="#000" stroke-width="0.9"/>
<circle cx="307.50" cy="246.33" r="1.85" fill="#a8a8ab" stroke="#2a2a2a" stroke-width="0.75"/>
<circle cx="312.60" cy="247.37" r="1.85" fill="#a8a8ab" stroke="#2a2a2a" stroke-width="0.75"/>
<circle cx="317.70" cy="246.77" r="1.85" fill="#a8a8ab" stroke="#2a2a2a" stroke-width="0.75"/>
<path d="M405.7,240.20 L405.7,359.6 L673.2,359.6" fill="none" stroke="#000" stroke-width="1.2"/>
<line x1="401.7" y1="240.80" x2="405.7" y2="240.80" stroke="#000" stroke-width="1.1"/>
<text x="398.5" y="244.70" font-size="11.5" text-anchor="end" fill="#231f20">2.5</text>
<line x1="401.7" y1="260.60" x2="405.7" y2="260.60" stroke="#000" stroke-width="1.1"/>
<text x="398.5" y="264.50" font-size="11.5" text-anchor="end" fill="#231f20">2.0</text>
<line x1="401.7" y1="280.40" x2="405.7" y2="280.40" stroke="#000" stroke-width="1.1"/>
<text x="398.5" y="284.30" font-size="11.5" text-anchor="end" fill="#231f20">1.5</text>
<line x1="401.7" y1="300.20" x2="405.7" y2="300.20" stroke="#000" stroke-width="1.1"/>
<text x="398.5" y="304.10" font-size="11.5" text-anchor="end" fill="#231f20">1.0</text>
<line x1="401.7" y1="320.00" x2="405.7" y2="320.00" stroke="#000" stroke-width="1.1"/>
<text x="398.5" y="323.90" font-size="11.5" text-anchor="end" fill="#231f20">0.5</text>
<line x1="401.7" y1="339.80" x2="405.7" y2="339.80" stroke="#000" stroke-width="1.1"/>
<text x="398.5" y="343.70" font-size="11.5" text-anchor="end" fill="#231f20">0.0</text>
<line x1="401.7" y1="359.60" x2="405.7" y2="359.60" stroke="#000" stroke-width="1.1"/>
<text x="398.5" y="363.50" font-size="11.5" text-anchor="end" fill="#231f20">-0.5</text>
<rect x="412.85" y="319.60" width="15.5" height="20.20" fill="#fca03e"/>
<rect x="460.11" y="296.64" width="15.5" height="43.16" fill="#fca03e"/>
<rect x="483.74" y="310.89" width="15.5" height="28.91" fill="#fca03e"/>
<rect x="507.37" y="303.76" width="15.5" height="36.04" fill="#fca03e"/>
<rect x="531.00" y="304.56" width="15.5" height="35.24" fill="#fca03e"/>
<rect x="554.63" y="325.54" width="15.5" height="14.26" fill="#fca03e"/>
<rect x="578.26" y="304.56" width="15.5" height="35.24" fill="#fca03e"/>
<rect x="601.89" y="305.74" width="15.5" height="34.06" fill="#fca03e"/>
<rect x="625.52" y="300.20" width="15.5" height="39.60" fill="#fca03e"/>
<rect x="649.15" y="265.35" width="15.5" height="74.45" fill="#fca03e"/>
<line x1="406.7" y1="339.8" x2="671.5" y2="339.8" stroke="#555" stroke-width="1" stroke-dasharray="1.2,3.2"/>
<line x1="420.60" y1="359.6" x2="420.60" y2="363.20000000000005" stroke="#000" stroke-width="1.1"/>
<text transform="translate(426.80,371.2) rotate(-45)" font-size="11.5" text-anchor="end" fill="#231f20"><tspan font-style="italic">E.coli</tspan>-13</text>
<line x1="444.23" y1="359.6" x2="444.23" y2="363.20000000000005" stroke="#000" stroke-width="1.1"/>
<text transform="translate(446.93,374.6) rotate(-45)" font-size="11.5" text-anchor="end" fill="#231f20">Δ<tspan font-style="italic">mxaJ</tspan></text>
<line x1="467.86" y1="359.6" x2="467.86" y2="363.20000000000005" stroke="#000" stroke-width="1.1"/>
<text transform="translate(470.56,374.6) rotate(-45)" font-size="11.5" text-anchor="end" fill="#231f20">Δ<tspan font-style="italic">mxaR</tspan></text>
<line x1="491.49" y1="359.6" x2="491.49" y2="363.20000000000005" stroke="#000" stroke-width="1.1"/>
<text transform="translate(494.19,374.6) rotate(-45)" font-size="11.5" text-anchor="end" fill="#231f20">Δ<tspan font-style="italic">mxaS</tspan></text>
<line x1="515.12" y1="359.6" x2="515.12" y2="363.20000000000005" stroke="#000" stroke-width="1.1"/>
<text transform="translate(517.82,374.6) rotate(-45)" font-size="11.5" text-anchor="end" fill="#231f20">Δ<tspan font-style="italic">mxaA</tspan></text>
<line x1="538.75" y1="359.6" x2="538.75" y2="363.20000000000005" stroke="#000" stroke-width="1.1"/>
<text transform="translate(541.45,374.6) rotate(-45)" font-size="11.5" text-anchor="end" fill="#231f20">Δ<tspan font-style="italic">mxaC</tspan></text>
<line x1="562.38" y1="359.6" x2="562.38" y2="363.20000000000005" stroke="#000" stroke-width="1.1"/>
<text transform="translate(565.08,374.6) rotate(-45)" font-size="11.5" text-anchor="end" fill="#231f20">Δ<tspan font-style="italic">mxaK</tspan></text>
<line x1="586.01" y1="359.6" x2="586.01" y2="363.20000000000005" stroke="#000" stroke-width="1.1"/>
<text transform="translate(588.71,374.6) rotate(-45)" font-size="11.5" text-anchor="end" fill="#231f20">Δ<tspan font-style="italic">mxaL</tspan></text>
<line x1="609.64" y1="359.6" x2="609.64" y2="363.20000000000005" stroke="#000" stroke-width="1.1"/>
<text transform="translate(612.34,374.6) rotate(-45)" font-size="11.5" text-anchor="end" fill="#231f20">Δ<tspan font-style="italic">mxaD</tspan></text>
<line x1="633.27" y1="359.6" x2="633.27" y2="363.20000000000005" stroke="#000" stroke-width="1.1"/>
<text transform="translate(635.97,374.6) rotate(-45)" font-size="11.5" text-anchor="end" fill="#231f20">Δ<tspan font-style="italic">mxaE</tspan></text>
<line x1="656.90" y1="359.6" x2="656.90" y2="363.20000000000005" stroke="#000" stroke-width="1.1"/>
<text transform="translate(659.60,374.6) rotate(-45)" font-size="11.5" text-anchor="end" fill="#231f20">Δ<tspan font-style="italic">mxaH</tspan></text>
<text transform="translate(372.4,302.6) rotate(-90)" font-size="11.8" text-anchor="middle" fill="#231f20">Specific activity (μmol min<tspan font-size="8" dy="-4">-1</tspan><tspan dy="4"> mg</tspan><tspan font-size="8" dy="-4">-1</tspan><tspan dy="4">)</tspan></text>
<line x1="416.10" y1="319.13" x2="425.10" y2="319.13" stroke="#000" stroke-width="0.9"/>
<circle cx="415.50" cy="319.21" r="1.75" fill="#fca03e" stroke="#2a1a0a" stroke-width="0.75"/>
<circle cx="420.60" cy="320.40" r="1.75" fill="#fca03e" stroke="#2a1a0a" stroke-width="0.75"/>
<circle cx="425.70" cy="319.60" r="1.75" fill="#fca03e" stroke="#2a1a0a" stroke-width="0.75"/>
<line x1="439.73" y1="339.54" x2="448.73" y2="339.54" stroke="#000" stroke-width="0.9"/>
<circle cx="439.13" cy="340.20" r="1.75" fill="#fca03e" stroke="#2a1a0a" stroke-width="0.75"/>
<circle cx="444.23" cy="341.78" r="1.75" fill="#fca03e" stroke="#2a1a0a" stroke-width="0.75"/>
<circle cx="449.33" cy="339.80" r="1.75" fill="#fca03e" stroke="#2a1a0a" stroke-width="0.75"/>
<line x1="463.36" y1="295.29" x2="472.36" y2="295.29" stroke="#000" stroke-width="0.9"/>
<circle cx="462.76" cy="295.45" r="1.75" fill="#fca03e" stroke="#2a1a0a" stroke-width="0.75"/>
<circle cx="467.86" cy="297.82" r="1.75" fill="#fca03e" stroke="#2a1a0a" stroke-width="0.75"/>
<circle cx="472.96" cy="296.24" r="1.75" fill="#fca03e" stroke="#2a1a0a" stroke-width="0.75"/>
<line x1="486.99" y1="310.50" x2="495.99" y2="310.50" stroke="#000" stroke-width="0.9"/>
<circle cx="486.39" cy="310.50" r="1.75" fill="#fca03e" stroke="#2a1a0a" stroke-width="0.75"/>
<circle cx="491.49" cy="311.29" r="1.75" fill="#fca03e" stroke="#2a1a0a" stroke-width="0.75"/>
<circle cx="496.59" cy="310.89" r="1.75" fill="#fca03e" stroke="#2a1a0a" stroke-width="0.75"/>
<line x1="510.62" y1="303.37" x2="519.62" y2="303.37" stroke="#000" stroke-width="0.9"/>
<circle cx="510.02" cy="303.37" r="1.75" fill="#fca03e" stroke="#2a1a0a" stroke-width="0.75"/>
<circle cx="515.12" cy="304.16" r="1.75" fill="#fca03e" stroke="#2a1a0a" stroke-width="0.75"/>
<circle cx="520.22" cy="303.76" r="1.75" fill="#fca03e" stroke="#2a1a0a" stroke-width="0.75"/>
<line x1="534.25" y1="303.51" x2="543.25" y2="303.51" stroke="#000" stroke-width="0.9"/>
<circle cx="533.65" cy="303.37" r="1.75" fill="#fca03e" stroke="#2a1a0a" stroke-width="0.75"/>
<circle cx="538.75" cy="304.95" r="1.75" fill="#fca03e" stroke="#2a1a0a" stroke-width="0.75"/>
<circle cx="543.85" cy="304.95" r="1.75" fill="#fca03e" stroke="#2a1a0a" stroke-width="0.75"/>
<line x1="557.88" y1="325.15" x2="566.88" y2="325.15" stroke="#000" stroke-width="0.9"/>
<circle cx="557.28" cy="325.15" r="1.75" fill="#fca03e" stroke="#2a1a0a" stroke-width="0.75"/>
<circle cx="562.38" cy="325.94" r="1.75" fill="#fca03e" stroke="#2a1a0a" stroke-width="0.75"/>
<circle cx="567.48" cy="325.54" r="1.75" fill="#fca03e" stroke="#2a1a0a" stroke-width="0.75"/>
<line x1="581.51" y1="304.16" x2="590.51" y2="304.16" stroke="#000" stroke-width="0.9"/>
<circle cx="580.91" cy="304.16" r="1.75" fill="#fca03e" stroke="#2a1a0a" stroke-width="0.75"/>
<circle cx="586.01" cy="304.95" r="1.75" fill="#fca03e" stroke="#2a1a0a" stroke-width="0.75"/>
<circle cx="591.11" cy="304.56" r="1.75" fill="#fca03e" stroke="#2a1a0a" stroke-width="0.75"/>
<line x1="605.14" y1="305.35" x2="614.14" y2="305.35" stroke="#000" stroke-width="0.9"/>
<circle cx="604.54" cy="305.35" r="1.75" fill="#fca03e" stroke="#2a1a0a" stroke-width="0.75"/>
<circle cx="609.64" cy="306.14" r="1.75" fill="#fca03e" stroke="#2a1a0a" stroke-width="0.75"/>
<circle cx="614.74" cy="305.74" r="1.75" fill="#fca03e" stroke="#2a1a0a" stroke-width="0.75"/>
<line x1="628.77" y1="300.10" x2="637.77" y2="300.10" stroke="#000" stroke-width="0.9"/>
<circle cx="628.17" cy="300.20" r="1.75" fill="#fca03e" stroke="#2a1a0a" stroke-width="0.75"/>
<circle cx="633.27" cy="300.60" r="1.75" fill="#fca03e" stroke="#2a1a0a" stroke-width="0.75"/>
<circle cx="638.37" cy="300.20" r="1.75" fill="#fca03e" stroke="#2a1a0a" stroke-width="0.75"/>
<line x1="652.40" y1="263.92" x2="661.40" y2="263.92" stroke="#000" stroke-width="0.9"/>
<circle cx="651.80" cy="263.77" r="1.75" fill="#fca03e" stroke="#2a1a0a" stroke-width="0.75"/>
<circle cx="656.90" cy="266.54" r="1.75" fill="#fca03e" stroke="#2a1a0a" stroke-width="0.75"/>
<circle cx="662.00" cy="265.75" r="1.75" fill="#fca03e" stroke="#2a1a0a" stroke-width="0.75"/>
</svg>
</body></html>
